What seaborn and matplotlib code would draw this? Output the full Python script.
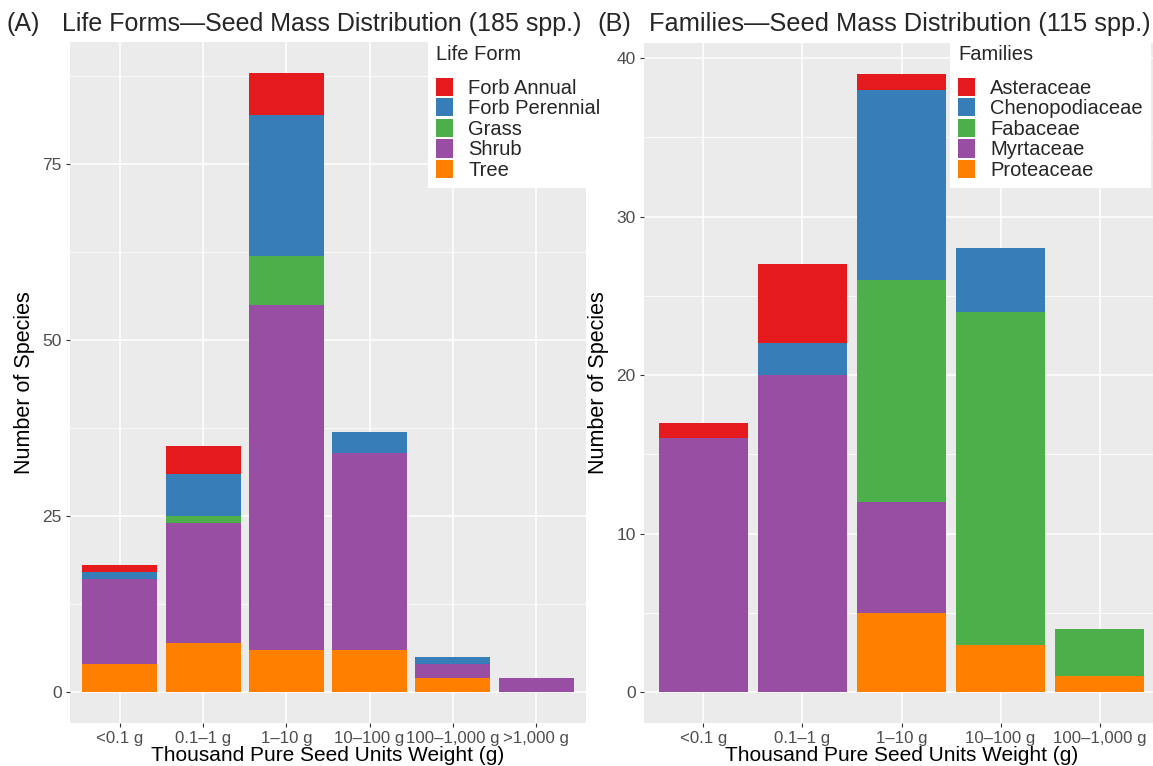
import matplotlib
matplotlib.use("Agg")
import matplotlib.pyplot as plt
from matplotlib.patches import Patch
from matplotlib.ticker import MultipleLocator
import seaborn as sns
import pandas as pd

sns.set_theme(style="darkgrid")
plt.rcParams["font.family"] = ["Liberation Sans", "DejaVu Sans"]

# Seed mass classes (thousand pure seed units weight)
mass_classes_a = ["<0.1 g", "0.1\u20131 g", "1\u201310 g", "10\u2013100 g", "100\u20131,000 g", ">1,000 g"]
mass_classes_b = ["<0.1 g", "0.1\u20131 g", "1\u201310 g", "10\u2013100 g", "100\u20131,000 g"]

# Panel A: species counts per life form in each mass class
life_forms = ["Forb Annual", "Forb Perennial", "Grass", "Shrub", "Tree"]
forb_annual = [1, 4, 6, 0, 0, 0]
forb_perennial = [1, 6, 20, 3, 1, 0]
grass = [0, 1, 7, 0, 0, 0]
shrub = [12, 17, 49, 28, 2, 2]
tree = [4, 7, 6, 6, 2, 0]

# Panel B: species counts per family in each mass class
families = ["Asteraceae", "Chenopodiaceae", "Fabaceae", "Myrtaceae", "Proteaceae"]
asteraceae = [1, 5, 1, 0, 0]
chenopodiaceae = [0, 2, 12, 4, 0]
fabaceae = [0, 0, 14, 21, 3]
myrtaceae = [16, 20, 7, 0, 0]
proteaceae = [0, 0, 5, 3, 1]

palette = ["#E41A1C", "#377EB8", "#4DAF4A", "#984EA3", "#FF7F00"]


def long_table(classes, groups, series, group_name):
    rows = []
    for g, vals in zip(groups, series):
        for c, v in zip(classes, vals):
            rows.append({"mass": c, group_name: g, "n": v})
    df = pd.DataFrame(rows)
    df["mass"] = pd.Categorical(df["mass"], categories=classes, ordered=True)
    return df


df_a = long_table(mass_classes_a, life_forms,
                  [forb_annual, forb_perennial, grass, shrub, tree], "Life Form")
df_b = long_table(mass_classes_b, families,
                  [asteraceae, chenopodiaceae, fabaceae, myrtaceae, proteaceae], "Families")

W, H = 1153, 766
fig = plt.figure(figsize=(W / 100, H / 100), dpi=100)
fig.patch.set_facecolor("white")


def px_axes(x0, y0, x1, y1):
    return fig.add_axes([x0 / W, 1 - y1 / H, (x1 - x0) / W, (y1 - y0) / H])


ax_a = px_axes(70, 42, 586, 723)
ax_b = px_axes(644, 43, 1159, 723)

GRID_BG = "#EBEBEB"
TICK_TXT = "#4D4D4D"


def draw_panel(ax, df, group_name, groups, classes, ymax, ystep, title, tag, tag_x, title_x,
               title_size, legend_x):
    sns.histplot(data=df, x="mass", hue=group_name, weights="n", hue_order=groups,
                 multiple="stack", discrete=True, shrink=0.9, palette=palette,
                 alpha=1, linewidth=0, edgecolor="none", legend=False, ax=ax)
    n = len(classes)
    ax.set_facecolor(GRID_BG)
    for s in ax.spines.values():
        s.set_visible(False)
    ax.set_xlim(-0.6, n - 0.4)
    ax.set_ylim(-ymax * 0.05, ymax * 1.05)
    ax.set_xticks(range(n))
    ax.set_xticklabels(classes)
    ax.yaxis.set_major_locator(MultipleLocator(ystep))
    ax.yaxis.set_minor_locator(MultipleLocator(ystep / 2))
    ax.grid(which="major", color="white", linewidth=1.1)
    ax.grid(which="minor", axis="y", color="white", linewidth=0.55)
    ax.set_axisbelow(True)
    ax.tick_params(axis="both", which="major", length=3, width=0.8, color="#333333",
                   labelcolor=TICK_TXT, labelsize=12.5, pad=3, bottom=True, left=True)
    ax.tick_params(axis="x", which="major", labelsize=12.1)
    ax.tick_params(axis="y", which="minor", length=0, left=False)
    ax.set_xlabel("Thousand Pure Seed Units Weight (g)", fontsize=15, color="black", labelpad=0)
    ax.set_ylabel("Number of Species", fontsize=15.5, color="black", labelpad=5)

    fig.text(tag_x / W, 1 - 24 / H, tag, fontsize=title_size, va="center", ha="left")
    fig.text(title_x / W, 1 - 24 / H, title, fontsize=title_size, va="center", ha="left")

    handles = [Patch(facecolor=c, edgecolor="none") for c in palette]
    leg = fig.legend(handles, groups, title=group_name, loc="upper left",
                     bbox_to_anchor=(legend_x / W, 1 - 37 / H), frameon=True,
                     fontsize=14.5, title_fontsize=14.5, handlelength=0.85, handleheight=1.0,
                     handletextpad=0.75, labelspacing=0.03, borderpad=0.4,
                     borderaxespad=0, alignment="left")
    leg.get_frame().set_facecolor("white")
    leg.get_frame().set_edgecolor("none")
    leg.get_frame().set_boxstyle("square", pad=0)
    leg.get_frame().set_alpha(1)
    leg._legend_box.sep = 10


draw_panel(ax_a, df_a, "Life Form", life_forms, mass_classes_a, 88, 25,
           "Life Forms\u2014Seed Mass Distribution (185 spp.)", "(A)", 6, 62, 18, 428)
draw_panel(ax_b, df_b, "Families", families, mass_classes_b, 39, 10,
           "Families\u2014Seed Mass Distribution (115 spp.)", "(B)", 597, 649, 18.3, 950)

fig.savefig("out.png", dpi=100, facecolor="white")
